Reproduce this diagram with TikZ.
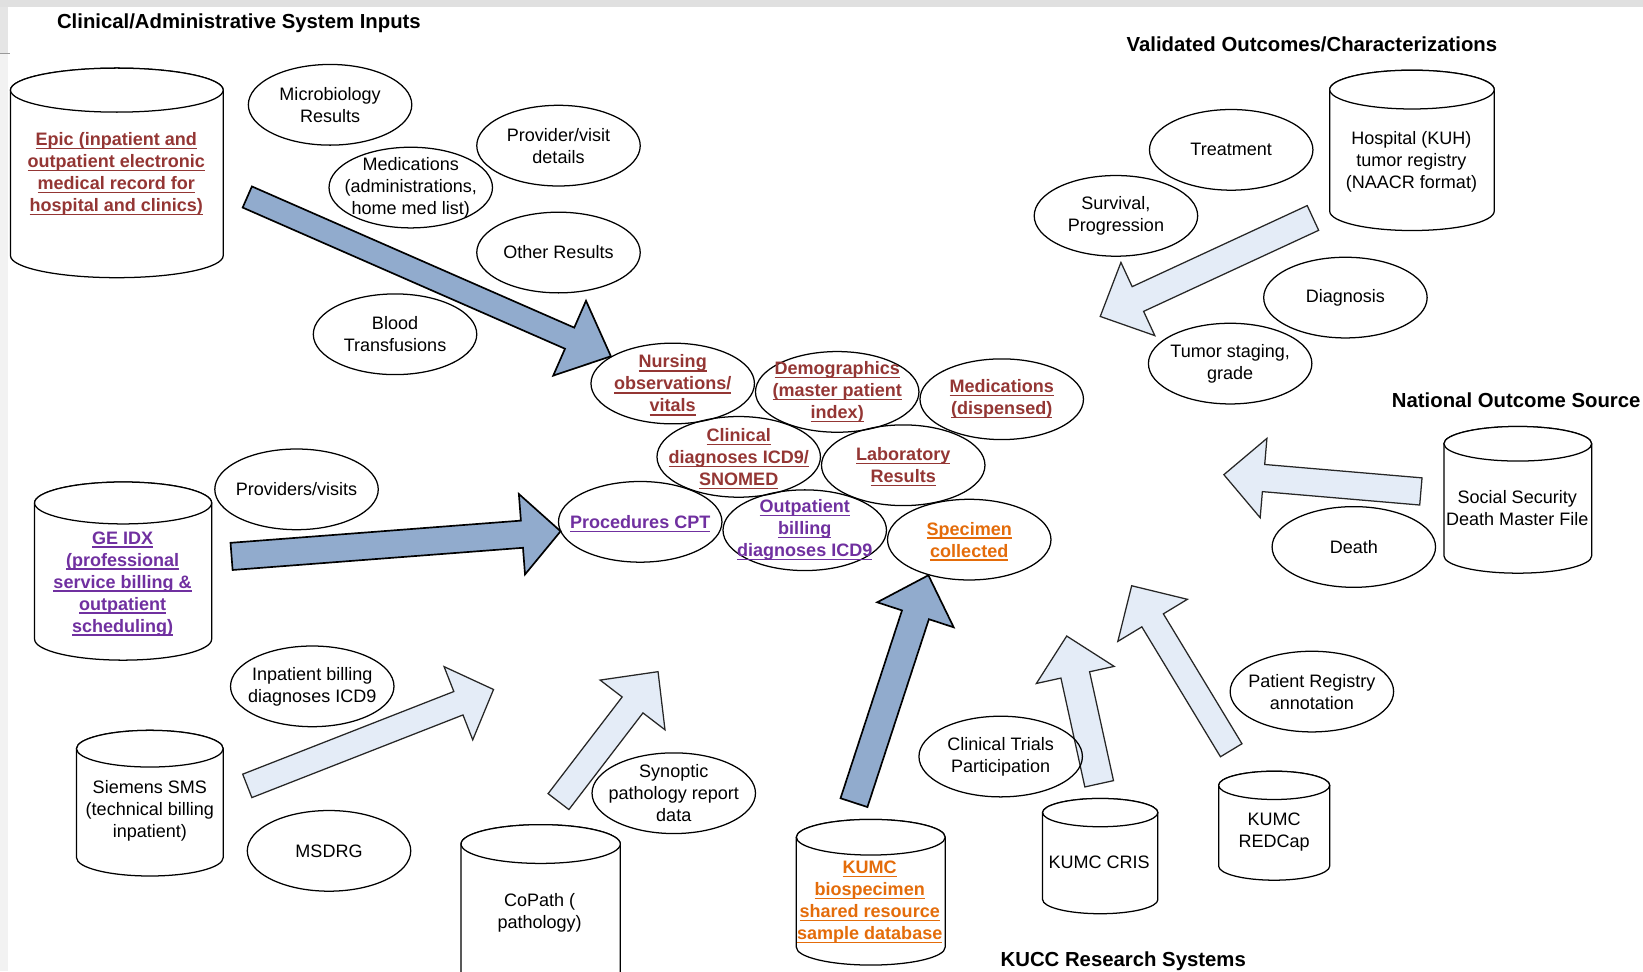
\documentclass[tikz,border=0pt]{standalone}
\usepackage{fontspec}
\setmainfont{Liberation Sans}
\usetikzlibrary{shapes.geometric,calc}
\definecolor{dred}{RGB}{148,54,52}
\definecolor{dpurple}{RGB}{112,48,160}
\definecolor{dorange}{RGB}{228,108,10}
\definecolor{darkfill}{RGB}{145,171,205}
\definecolor{lightfill}{RGB}{228,236,247}
\newcommand\uln[1]{\setbox0\hbox{#1}\rlap{\raisebox{0pt}[0pt][0pt]{\rule[-1.7pt]{\wd0}{0.6pt}}}\box0}
\tikzset{
 ell/.style={ellipse, draw, line width=0.6pt, minimum width=78pt, minimum height=38.5pt, inner sep=0pt},
 txt/.style={align=center, inner sep=0pt, font=\fontsize{8.6}{10.5}\selectfont},
 btxt/.style={txt, font=\fontsize{8.6}{10.5}\selectfont\bfseries},
 redt/.style={btxt, text=dred},
 purt/.style={btxt, text=dpurple},
 orat/.style={btxt, text=dorange},
 hdg/.style={inner sep=0pt, font=\fontsize{9.7}{11.6}\selectfont\bfseries},
 cylline/.style={draw=black, fill=white, line width=0.6pt},
 darkarrow/.style={draw=black, fill=darkfill, line width=0.8pt, line join=miter},
 lightarrow/.style={draw=black!85, fill=lightfill, line width=0.6pt, line join=miter},
}
\newcommand\ellnode[4][txt]{\node[ell] (#2) at (#3) {}; \node[#1] (#2-t) at (#2.center) {#4};}
\newcommand\dbcyl[6]{% name, cx, ytop, ybot, rx, ry
 \pgfmathsetmacro\cyT{#3+#6}%
 \pgfmathsetmacro\cyB{#4-#6}%
 \pgfmathsetmacro\cyL{#2-#5}%
 \pgfmathsetmacro\cyR{#2+#5}%
 \pgfmathsetmacro\cyRX{#5/2}%
 \pgfmathsetmacro\cyRY{#6/2}%
 \filldraw[cylline] (\cyL,\cyT) -- (\cyL,\cyB) arc[start angle=180,end angle=360,x radius=\cyRX pt,y radius=\cyRY pt] -- (\cyR,\cyT) arc[start angle=0,end angle=180,x radius=\cyRX pt,y radius=\cyRY pt] -- cycle;
 \draw[cylline] (#2,\cyT) ellipse[x radius=\cyRX pt,y radius=\cyRY pt];
 \coordinate (#1) at (#2,{(#3+#4)/2});
}
\newcommand\blockarrow[6]{% style, tail, tip, shaft hw, head hw, head length
 \coordinate (ba-h) at ($(#3)!#6!(#2)$);
 \draw[#1] ($(#2)!#4!90:(#3)$) -- ($(ba-h)!#4!90:(#3)$) -- ($(ba-h)!#5!90:(#3)$) -- (#3) -- ($(ba-h)!#5!-90:(#3)$) -- ($(ba-h)!#4!-90:(#3)$) -- ($(#2)!#4!-90:(#3)$) -- cycle;
}
\begin{document}
\begin{tikzpicture}[x=0.5pt,y=-0.5pt]
\useasboundingbox (0,0) rectangle (1568,927);
\fill[white] (0,0) rectangle (1568,927);
\fill[black!12] (0,0) rectangle (1568,7);
\fill[black!5] (0,7) rectangle (8,927);
\fill[black!10] (0,7) rectangle (8,51);
\draw[black!40, line width=0.4pt] (0,51) -- (10,51);

% headings
\node[hdg] (t1) at (228,22) {Clinical/Administrative System Inputs};
\node[hdg] (t2) at (1252,42) {Validated Outcomes/Characterizations};
\node[hdg] (t3) at (1447,382) {National Outcome Source};
\node[hdg] (t4) at (1072,917) {KUCC Research Systems};

% cylinders
\dbcyl{epic}{111.5}{65}{265}{101.5}{21}
\node[redt] (epic-t) at (111,166) {\uln{Epic (inpatient and}\\\uln{outpatient electronic}\\\uln{medical record for}\\\uln{hospital and clinics)}};
\dbcyl{geidx}{117.5}{460}{630}{84.5}{20}
\node[purt] (geidx-t) at (117,557) {\uln{GE IDX}\\\uln{(professional}\\\uln{service billing \&}\\\uln{outpatient}\\\uln{scheduling)}};
\dbcyl{siemens}{143}{697}{836}{70}{17.5}
\node[txt] (siemens-t) at (143,774) {Siemens SMS\\(technical billing\\inpatient)};
\dbcyl{copath}{516}{787}{960}{76}{18.5}
\node[txt] (copath-t) at (515,871) {CoPath (\\pathology)};
\dbcyl{biospec}{831}{782}{921}{71}{17}
\node[orat] (biospec-t) at (830,861) {\uln{KUMC}\\\uln{biospecimen}\\\uln{shared resource}\\\uln{sample database}};
\dbcyl{cris}{1050}{762}{872}{55}{13.5}
\node[txt] (cris-t) at (1049,823) {KUMC CRIS};
\dbcyl{redcap}{1216}{736}{840}{53}{13.5}
\node[txt] (redcap-t) at (1216,794) {KUMC\\REDCap};
\dbcyl{hospital}{1347.5}{67}{220}{78.5}{18.5}
\node[txt] (hospital-t) at (1347,154) {Hospital (KUH)\\tumor registry\\(NAACR format)};
\dbcyl{ssdmf}{1448.5}{407}{547}{70.5}{16.5}
\node[txt] (ssdmf-t) at (1448,485) {Social Security\\Death Master File};

% block arrows
\coordinate (a1s) at (236,188); \coordinate (a1e) at (583,340);
\coordinate (a2s) at (221,531); \coordinate (a2e) at (535,507);
\coordinate (a3s) at (236,750); \coordinate (a3e) at (471,658);
\coordinate (a4s) at (533,765); \coordinate (a4e) at (628,641);
\coordinate (a5s) at (815,766); \coordinate (a5e) at (886,549);
\coordinate (a6s) at (1049,748); \coordinate (a6e) at (1018,607);
\coordinate (a7s) at (1175,716); \coordinate (a7e) at (1080,559);
\coordinate (a8s) at (1356,469); \coordinate (a8e) at (1168,453);
\coordinate (a9s) at (1253,208); \coordinate (a9e) at (1050,302);
\blockarrow{darkarrow}{a1s}{a1e}{5.5pt}{19.5pt}{21.5pt}
\blockarrow{darkarrow}{a2s}{a2e}{6.5pt}{19.25pt}{18.5pt}
\blockarrow{lightarrow}{a3s}{a3e}{6pt}{18.75pt}{18pt}
\blockarrow{lightarrow}{a4s}{a4e}{6.25pt}{19.5pt}{20pt}
\blockarrow{darkarrow}{a5s}{a5e}{6.75pt}{19.2pt}{19.85pt}
\blockarrow{lightarrow}{a6s}{a6e}{7pt}{19pt}{19pt}
\blockarrow{lightarrow}{a7s}{a7e}{6pt}{19.4pt}{19.3pt}
\blockarrow{lightarrow}{a8s}{a8e}{6.5pt}{19pt}{19pt}
\blockarrow{lightarrow}{a9s}{a9e}{6.5pt}{19.25pt}{19.8pt}

% plain ellipses
\ellnode{micro}{315,100}{Microbiology\\Results}
\ellnode{provvisit}{533,139}{Provider/visit\\details}
\ellnode{medsadm}{392,179}{Medications\\(administrations,\\home med list)}
\ellnode{otherres}{533,241}{Other Results}
\ellnode{blood}{377,319}{Blood\\Transfusions}
\ellnode{provs}{283,467}{Providers/visits}
\ellnode{inpbill}{298,655}{Inpatient billing\\diagnoses ICD9}
\ellnode{msdrg}{314,812}{MSDRG}
\ellnode{synoptic}{643,757}{Synoptic\\pathology report\\data}
\ellnode{trials}{955,722}{Clinical Trials\\Participation}
\ellnode{registry}{1252,660}{Patient Registry\\annotation}
\ellnode{death}{1292,522}{Death}
\ellnode{treatment}{1175,143}{Treatment}
\ellnode{survival}{1065,206}{Survival,\\Progression}
\ellnode{diagnosis}{1284,284}{Diagnosis}
\ellnode{staging}{1174,347}{Tumor staging,\\grade}

% central ellipses
\ellnode[redt]{nursing}{642,366}{\uln{Nursing}\\\uln{observations/}\\\uln{vitals}}
\ellnode[redt]{demo}{799,374}{\uln{Demographics}\\\uln{(master patient}\\\uln{index)}}
\ellnode[redt]{medsdisp}{956,381}{\uln{Medications}\\\uln{(dispensed)}}
\ellnode[redt]{clindx}{705,436}{\uln{Clinical}\\\uln{diagnoses ICD9/}\\\uln{SNOMED}}
\ellnode[redt]{lab}{862,444}{\uln{Laboratory}\\\uln{Results}}
\ellnode[purt]{procs}{611,498}{\uln{Procedures CPT}}
\ellnode[purt]{outbill}{768,506}{\uln{Outpatient}\\\uln{billing}\\\uln{diagnoses ICD9}}
\ellnode[orat]{specimen}{925,515}{\uln{Specimen}\\\uln{collected}}
\end{tikzpicture}
\end{document}
